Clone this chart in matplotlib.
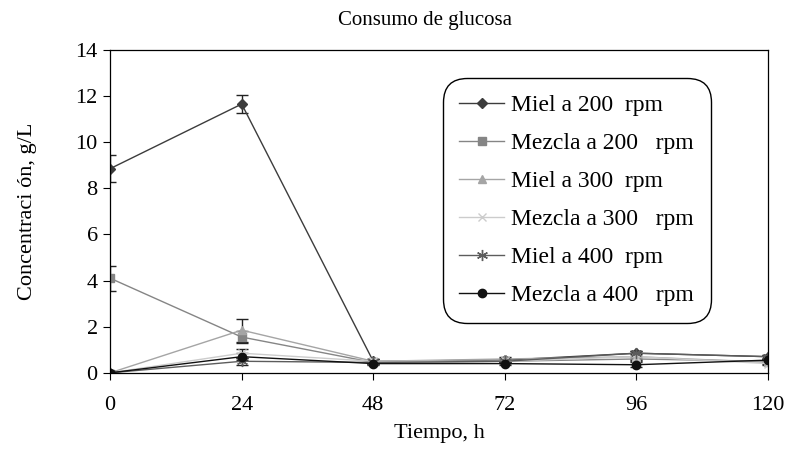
import numpy as np
import matplotlib.pyplot as plt

plt.rcParams['font.family'] = ['Liberation Serif', 'DejaVu Serif']

tiempo = [0, 24, 48, 72, 96, 120]

etiquetas = ["Miel a 200  rpm", "Mezcla a 200   rpm", "Miel a 300  rpm",
             "Mezcla a 300   rpm", "Miel a 400  rpm", "Mezcla a 400   rpm"]

miel_200 = [8.85, 11.65, 0.5, 0.55, 0.85, 0.7]
mezcla_200 = [4.1, 1.55, 0.45, 0.5, 0.6, 0.5]
miel_300 = [0.0, 1.85, 0.5, 0.6, 0.7, 0.45]
mezcla_300 = [0.0, 0.85, 0.5, 0.5, 0.7, 0.4]
miel_400 = [0.0, 0.5, 0.45, 0.5, 0.85, 0.7]
mezcla_400 = [0.0, 0.7, 0.4, 0.4, 0.35, 0.55]

err_miel_200 = [0.6, 0.38, 0.08, 0.08, 0.1, 0.08]
err_mezcla_200 = [0.55, 0.25, 0.08, 0.08, 0.1, 0.08]
err_miel_300 = [0.05, 0.5, 0.08, 0.08, 0.15, 0.08]
err_mezcla_300 = [0.05, 0.2, 0.08, 0.08, 0.1, 0.08]
err_miel_400 = [0.05, 0.15, 0.08, 0.08, 0.1, 0.08]
err_mezcla_400 = [0.05, 0.15, 0.08, 0.08, 0.1, 0.08]

series = [miel_200, mezcla_200, miel_300, mezcla_300, miel_400, mezcla_400]
errores = [err_miel_200, err_mezcla_200, err_miel_300, err_mezcla_300, err_miel_400, err_mezcla_400]
colores = ['#3c3c3c', '#858585', '#a5a5a5', '#cccccc', '#5c5c5c', '#111111']
marcadores = ['D', 's', '^', 'x', (6, 2, 0), 'o']
tamanos = [5, 6, 6, 6, 8, 6]

fig = plt.figure(figsize=(8.1, 4.53), dpi=100)
ax = fig.add_axes([0.136, 0.177, 0.812, 0.713])

lineas = []
for y, e, c, m, s, lab in zip(series, errores, colores, marcadores, tamanos, etiquetas):
    cont = ax.errorbar(tiempo, y, yerr=e, color=c, marker=m, markersize=s, linewidth=1,
                       ecolor='#222222', elinewidth=1, capsize=4, label=lab)
    lineas.append(cont.lines[0])

ax.set_xlim(0, 120)
ax.set_ylim(0, 14)
ax.set_xticks(tiempo)
ax.set_yticks(np.arange(0, 15, 2))
ax.tick_params(direction='out', length=5, labelsize=16, pad=12)
ax.tick_params(axis='y', pad=4)
for sp in ax.spines.values():
    sp.set_linewidth(0.9)

fig.text(425 / 810, 1 - 20 / 453, "Consumo de glucosa", fontsize=15, ha='center', va='center')
ax.set_xlabel("Tiempo, h", fontsize=16, labelpad=6)
ax.set_ylabel("Concentraci ón, g/L", fontsize=16, labelpad=28)

leg = ax.legend(handles=lineas, labels=etiquetas, loc='upper left',
                bbox_to_anchor=(0.506, 0.913), borderaxespad=0,
                fontsize=17, handlelength=1.9, handletextpad=0.3, labelspacing=0.7,
                fancybox=True, framealpha=1, edgecolor='black', borderpad=0.7)
leg.get_frame().set_linewidth(1)
leg.get_frame().set_boxstyle('round', pad=0.0, rounding_size=1.0)
leg._legend_box.align = 'left'

fig.savefig('out.png', dpi=100)
